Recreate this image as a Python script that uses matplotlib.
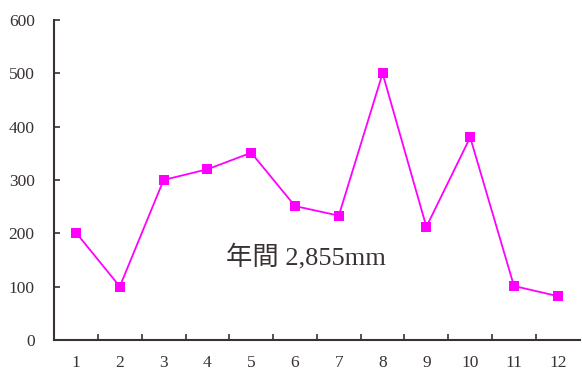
import numpy as np
import matplotlib.pyplot as plt

months = ['1', '2', '3', '4', '5', '6', '7', '8', '9', '10', '11', '12']
rainfall = [201, 100, 300, 320, 351, 251, 233, 500, 212, 380, 101, 82]
yticks = [0, 100, 200, 300, 400, 500, 600]
note = '年間 2,855mm'

axis_color = '#3a3232'
serif = ['Liberation Serif', 'Noto Sans CJK JP']

fig = plt.figure(figsize=(5.82, 3.71), dpi=100)
ax = fig.add_axes([0.093, 0.084, 0.903, 0.862])

x = np.arange(len(months))
ax.plot(x, rainfall, color='#ff00ff', linewidth=1.3,
        marker='s', markersize=7, markeredgewidth=0)

ax.set_xlim(-0.5, len(months) - 0.5)
ax.set_ylim(0, 600)

ax.set_yticks(yticks)
ax.set_yticklabels([str(v) for v in yticks], family=serif, fontsize=12.5, color=axis_color)
ax.set_xticks(x)
ax.set_xticklabels(months, family=serif, fontsize=12.5, color=axis_color)
ax.set_xticks(x[:-1] + 0.5, minor=True)

ax.tick_params(axis='x', which='major', length=0, pad=11)
ax.tick_params(axis='x', which='minor', direction='in', length=4, width=1.2, color=axis_color)
ax.tick_params(axis='y', direction='in', length=4, width=1.2, color=axis_color, pad=14)

for side in ['top', 'right']:
    ax.spines[side].set_visible(False)
for side in ['left', 'bottom']:
    ax.spines[side].set_color(axis_color)
    ax.spines[side].set_linewidth(1.5)

ax.text(5.25, 157, note, family=serif, fontsize=19, color=axis_color,
        ha='center', va='center')

fig.savefig('out.png', dpi=100)
